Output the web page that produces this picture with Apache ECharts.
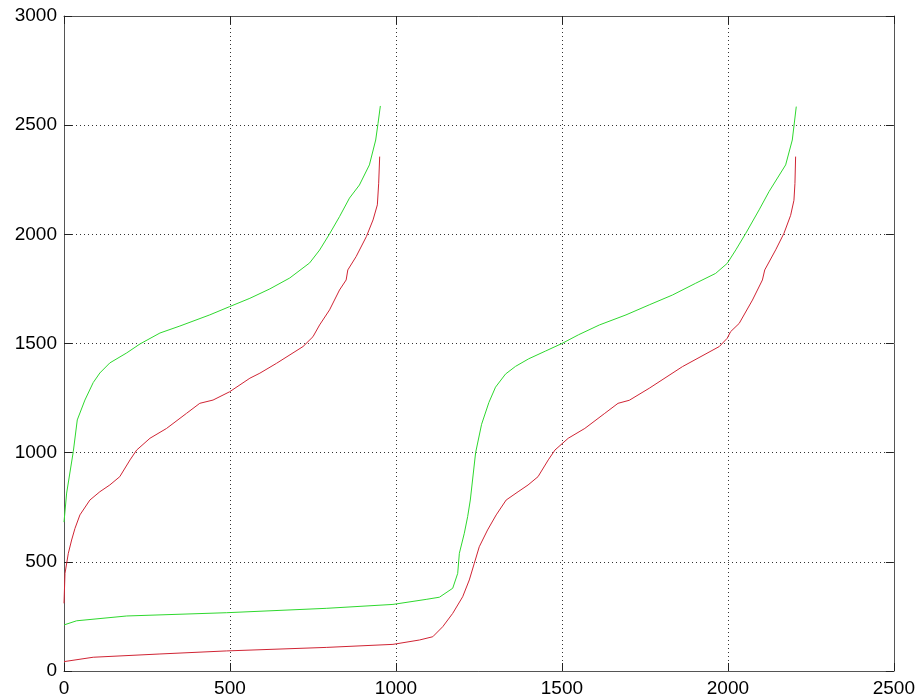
<!DOCTYPE html>
<html>
<head>
<meta charset="utf-8">
<script src="https://cdn.jsdelivr.net/npm/echarts@6/dist/echarts.min.js"></script>
<style>
  html, body { margin: 0; padding: 0; background: #fff; }
  #main { width: 918px; height: 698px; }
</style>
</head>
<body>
<div id="main"></div>
<script>
// upper-left green curve
var greenAX = [0, 8, 28, 40, 63, 88, 108, 138, 189, 229, 289, 349, 439, 499, 560, 620, 680, 740, 770, 800, 830, 860, 890, 920, 939, 946, 953];
var greenAY = [682, 815, 1005, 1150, 1241, 1321, 1365, 1411, 1457, 1498, 1548, 1580, 1631, 1669, 1707, 1750, 1800, 1869, 1928, 2002, 2081, 2166, 2226, 2318, 2432, 2508, 2588];
// upper-left red curve
var redAX = [0, 1, 3, 13, 23, 33, 48, 78, 108, 138, 168, 199, 219, 259, 309, 369, 409, 449, 499, 560, 590, 640, 720, 750, 770, 800, 830, 850, 855, 880, 911, 931, 944, 948, 951];
var redAY = [310, 317, 447, 539, 600, 653, 715, 783, 821, 852, 890, 967, 1012, 1066, 1111, 1180, 1226, 1241, 1279, 1341, 1364, 1409, 1486, 1531, 1585, 1654, 1745, 1791, 1837, 1898, 1990, 2066, 2135, 2234, 2356];
// long green curve
var greenBX = [0, 38, 189, 490, 790, 991, 1091, 1131, 1171, 1186, 1191, 1206, 1216, 1224, 1240, 1258, 1280, 1300, 1330, 1360, 1400, 1450, 1500, 1550, 1613, 1693, 1763, 1833, 1903, 1963, 1998, 2024, 2054, 2094, 2124, 2174, 2194, 2206];
var greenBY = [211, 230, 252, 267, 287, 305, 328, 338, 379, 447, 539, 631, 707, 783, 1000, 1130, 1230, 1300, 1360, 1395, 1430, 1465, 1500, 1540, 1585, 1631, 1677, 1722, 1776, 1821, 1867, 1929, 2005, 2112, 2196, 2318, 2432, 2585];
// long red curve
var redBX = [0, 88, 289, 490, 790, 991, 1071, 1111, 1141, 1171, 1201, 1221, 1236, 1251, 1276, 1302, 1332, 1368, 1398, 1428, 1459, 1479, 1519, 1569, 1629, 1669, 1703, 1763, 1863, 1974, 1998, 2008, 2034, 2074, 2104, 2111, 2144, 2169, 2189, 2199, 2202, 2204];
var redBY = [43, 63, 78, 92, 108, 122, 142, 157, 203, 264, 340, 417, 493, 569, 646, 715, 783, 821, 852, 890, 967, 1012, 1066, 1111, 1180, 1226, 1240, 1295, 1394, 1486, 1524, 1554, 1592, 1699, 1791, 1837, 1929, 2005, 2087, 2156, 2233, 2356];

function pairs(xs, ys) {
  return xs.map(function (x, i) { return [x, ys[i]]; });
}

var GREEN = '#2ed82e';
var RED = '#d02434';

var myChart = echarts.init(document.getElementById('main'));

var lbl = {
  fontFamily: 'Liberation Sans, Arial, sans-serif', fontSize: 19, color: '#000',
  formatter: function (v) { return String(v); }
};
var gridLine = { lineStyle: { color: '#333', type: [1, 3], width: 1 } };
var axLine = { show: true, onZero: false, lineStyle: { color: '#555', width: 1 } };
var axTick = { show: true, inside: true, length: 8, lineStyle: { color: '#222' } };

var option = {
  animation: false,
  backgroundColor: '#fff',
  grid: { left: 64, right: 23, top: 16, bottom: 27 },
  xAxis: [
    {
      type: 'value', min: 0, max: 2500, interval: 500, position: 'bottom',
      axisLine: axLine, axisTick: axTick,
      axisLabel: Object.assign({ margin: 8 }, lbl),
      splitLine: Object.assign({ show: true }, gridLine)
    },
    {
      type: 'value', min: 0, max: 2500, interval: 500, position: 'top',
      axisLine: axLine, axisTick: axTick,
      axisLabel: { show: false }, splitLine: { show: false }
    }
  ],
  yAxis: [
    {
      type: 'value', min: 0, max: 3000, interval: 500, position: 'left',
      axisLine: axLine, axisTick: axTick,
      axisLabel: Object.assign({ margin: 7 }, lbl),
      splitLine: Object.assign({ show: true }, gridLine)
    },
    {
      type: 'value', min: 0, max: 3000, interval: 500, position: 'right',
      axisLine: axLine, axisTick: axTick,
      axisLabel: { show: false }, splitLine: { show: false }
    }
  ],
  series: [
    { type: 'line', data: pairs(greenAX, greenAY), showSymbol: false, lineStyle: { color: GREEN, width: 1 } },
    { type: 'line', data: pairs(redAX, redAY), showSymbol: false, lineStyle: { color: RED, width: 1 } },
    { type: 'line', data: pairs(greenBX, greenBY), showSymbol: false, lineStyle: { color: GREEN, width: 1 } },
    { type: 'line', data: pairs(redBX, redBY), showSymbol: false, lineStyle: { color: RED, width: 1 } }
  ]
};
myChart.setOption(option, true);
</script>
</body>
</html>
